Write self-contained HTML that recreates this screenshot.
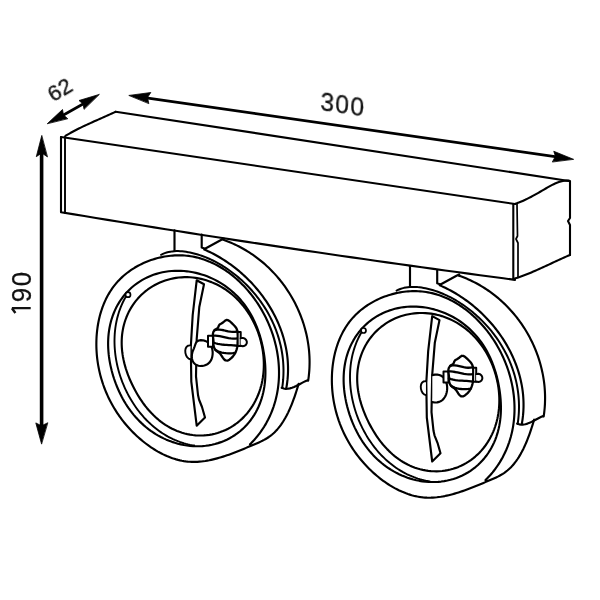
<!DOCTYPE html>
<html><head><meta charset="utf-8"><style>
html,body{margin:0;padding:0;background:#fff;width:600px;height:600px;overflow:hidden}
svg{display:block}
text{font-family:"Liberation Sans",sans-serif;fill:#111}
</style></head><body>
<svg width="600" height="600" viewBox="0 0 600 600">
<rect width="600" height="600" fill="#fff"/>
<g stroke="#000" stroke-linejoin="round" stroke-linecap="round">
<path d="M61.00,137.00 L61.00,212.23 L72.64,214.16 L84.28,216.08 L95.92,217.99 L107.56,219.88 L119.21,221.77 L130.85,223.65 L142.49,225.52 L154.13,227.38 L165.77,229.22 L177.41,231.06 L189.05,232.89 L200.69,234.70 L212.33,236.51 L223.97,238.30 L235.62,240.09 L247.26,241.87 L258.90,243.63 L270.54,245.39 L282.18,247.13 L293.82,248.86 L305.46,250.59 L317.10,252.30 L328.74,254.01 L340.38,255.70 L352.03,257.38 L363.67,259.05 L375.31,260.72 L386.95,262.37 L398.59,264.01 L410.23,265.64 L421.87,267.26 L433.51,268.87 L445.15,270.47 L456.79,272.07 L468.44,273.65 L480.08,275.22 L491.72,276.78 L503.36,278.32 L515.00,279.86" stroke-width="2.10" fill="none"/>
<path d="M65.00,136.50 L65.00,213.00" stroke-width="1.90" fill="none"/>
<path d="M61.00,137.00 L515.00,204.00" stroke-width="2.10" fill="none"/>
<path d="M513.30,204.00 L513.30,279.30" stroke-width="2.10" fill="none"/>
<path d="M517.00,204.00 L517.50,236.00 L516.00,239.00 L518.00,243.00 L518.00,277.00" stroke-width="1.70" fill="none"/>
<path d="M65.70,135.70 L67.54,134.62 L69.40,133.56 L71.26,132.52 L73.14,131.50 L75.03,130.50 L76.92,129.52 L78.83,128.56 L80.74,127.62 L82.66,126.68 L84.59,125.77 L86.52,124.86 L88.46,123.97 L90.40,123.08 L92.34,122.20 L94.29,121.33 L96.24,120.46 L98.20,119.60 L100.15,118.73 L102.10,117.87 L104.05,117.01 L106.01,116.14 L107.95,115.28 L109.90,114.40 L111.84,113.53 L113.78,112.64 L115.72,111.74" stroke-width="2.10" fill="none"/>
<path d="M115.70,111.70 L569.00,181.00" stroke-width="2.10" fill="none"/>
<path d="M568.91,180.64 L566.83,180.61 L564.80,180.75 L562.80,181.05 L560.83,181.50 L558.88,182.07 L556.97,182.76 L555.07,183.55 L553.19,184.43 L551.32,185.37 L549.47,186.38 L547.62,187.42 L545.77,188.49 L543.93,189.57 L542.08,190.65 L540.22,191.73 L538.37,192.80 L536.51,193.87 L534.64,194.92 L532.77,195.94 L530.88,196.95 L529.00,197.93 L527.10,198.88 L525.19,199.80 L523.27,200.67 L521.34,201.50 L519.40,202.29 L517.44,203.02 L515.48,203.70" stroke-width="2.10" fill="none"/>
<path d="M570.00,181.00 L570.00,218.00 L568.00,221.00 L570.00,225.00 L570.00,255.00" stroke-width="2.10" fill="none"/>
<path d="M513.50,279.00 L515.53,278.37 L517.54,277.71 L519.55,277.02 L521.54,276.31 L523.53,275.57 L525.51,274.81 L527.47,274.03 L529.43,273.23 L531.39,272.42 L533.33,271.59 L535.28,270.74 L537.21,269.89 L539.14,269.02 L541.07,268.14 L543.00,267.26 L544.92,266.37 L546.84,265.48 L548.76,264.58 L550.68,263.68 L552.60,262.78 L554.52,261.89 L556.45,261.00 L558.37,260.11 L560.30,259.23 L562.23,258.36 L564.16,257.50 L566.10,256.65 L568.05,255.82 L570.00,255.00" stroke-width="2.10" fill="none"/>
<path d="M148.00,98.10 L555.00,156.60" stroke-width="2.60" fill="none"/>
<path d="M129.20,95.40 L150.80,92.50 L147.50,97.50 L148.75,103.30Z" stroke-width="0.80" fill="#000"/>
<path d="M573.30,159.20 L553.75,151.25 L555.40,156.25 L552.50,161.70Z" stroke-width="0.80" fill="#000"/>
<path d="M63.50,115.00 L83.00,104.00" stroke-width="2.60" fill="none"/>
<path d="M47.50,123.50 L62.50,109.50 L63.50,115.00 L67.50,118.50Z" stroke-width="0.80" fill="#000"/>
<path d="M99.00,94.50 L79.00,100.50 L83.00,104.00 L84.00,109.00Z" stroke-width="0.80" fill="#000"/>
<path d="M41.60,152.00 L41.60,427.00" stroke-width="3.60" fill="none"/>
<path d="M41.70,135.80 L36.30,156.70 L41.70,153.00 L47.20,156.70Z" stroke-width="0.80" fill="#000"/>
<path d="M41.50,443.75 L35.80,422.90 L41.50,425.80 L47.50,422.90Z" stroke-width="0.80" fill="#000"/>
<g>
<path d="M174.50,230.40 L174.50,251.00" stroke-width="2.15" fill="none"/>
<path d="M201.70,234.60 L201.70,247.50 L205.00,248.70" stroke-width="2.15" fill="none"/>
<path d="M205.00,248.70 L221.00,240.00 L223.70,238.60" stroke-width="2.15" fill="none"/>
<path d="M223.30,239.83 L225.27,240.53 L227.22,241.26 L229.15,242.02 L231.07,242.81 L232.97,243.63 L234.86,244.49 L236.72,245.38 L238.57,246.30 L240.40,247.24 L242.21,248.22 L244.00,249.23 L245.77,250.26 L247.53,251.33 L249.26,252.42 L250.98,253.54 L252.68,254.69 L254.35,255.86 L256.01,257.06 L257.64,258.29 L259.26,259.54 L260.85,260.81 L262.42,262.12 L263.97,263.44 L265.50,264.79 L267.01,266.17 L268.50,267.56 L269.96,268.98 L271.40,270.43 L272.82,271.89 L274.21,273.38 L275.58,274.88 L276.93,276.41 L278.26,277.96 L279.56,279.53 L280.83,281.12 L282.09,282.72 L283.31,284.35 L284.51,285.99 L285.69,287.65 L286.84,289.33 L287.97,291.03 L289.07,292.74 L290.15,294.47 L291.19,296.22 L292.22,297.98 L293.21,299.76 L294.18,301.55 L295.12,303.35 L296.04,305.17 L296.92,307.01 L297.78,308.85 L298.61,310.71 L299.41,312.58 L300.19,314.47 L300.93,316.36 L301.65,318.26 L302.33,320.18 L302.99,322.11 L303.62,324.04 L304.21,325.99 L304.78,327.94 L305.32,329.91 L305.82,331.88 L306.30,333.86 L306.74,335.85 L307.15,337.84 L307.54,339.84 L307.88,341.85 L308.20,343.86 L308.49,345.88 L308.74,347.90 L308.96,349.93 L309.15,351.96 L309.30,354.00 L309.42,356.04 L309.51,358.08 L309.56,360.12 L309.58,362.17 L309.56,364.22 L309.51,366.27 L309.43,368.32 L309.31,370.37 L309.15,372.42 L308.96,374.47 L308.73,376.53 L308.47,378.58 L308.17,380.62" stroke-width="2.15" fill="none"/>
<path d="M307.69,380.32 L305.84,381.02 L303.95,381.89 L302.03,382.89 L300.07,383.95 L298.09,385.02 L296.08,386.05 L294.06,387.00 L292.01,387.80 L289.95,388.40 L287.89,388.76 L285.81,388.82 L283.74,388.52 L281.66,387.81" stroke-width="2.15" fill="none"/>
<path d="M204.30,249.51 L206.13,250.32 L207.95,251.15 L209.75,252.01 L211.55,252.90 L213.33,253.81 L215.11,254.76 L216.87,255.73 L218.62,256.73 L220.36,257.75 L222.09,258.81 L223.80,259.88 L225.50,260.99 L227.19,262.12 L228.86,263.27 L230.52,264.45 L232.16,265.65 L233.78,266.88 L235.40,268.13 L236.99,269.40 L238.57,270.70 L240.13,272.02 L241.67,273.36 L243.20,274.72 L244.70,276.11 L246.19,277.52 L247.66,278.94 L249.11,280.39 L250.54,281.86 L251.95,283.35 L253.34,284.86 L254.71,286.38 L256.05,287.93 L257.38,289.49 L258.68,291.08 L259.96,292.68 L261.22,294.30 L262.45,295.93 L263.66,297.59 L264.85,299.26 L266.01,300.94 L267.14,302.64 L268.25,304.36 L269.34,306.09 L270.40,307.84 L271.43,309.60 L272.43,311.38 L273.41,313.17 L274.36,314.97 L275.28,316.79 L276.17,318.62 L277.04,320.46 L277.87,322.31 L278.67,324.18 L279.45,326.06 L280.19,327.95 L280.91,329.85 L281.59,331.76 L282.24,333.68 L282.85,335.61 L283.44,337.55 L283.99,339.50 L284.51,341.45 L284.99,343.42 L285.44,345.39 L285.86,347.38 L286.24,349.37 L286.59,351.36 L286.90,353.37 L287.17,355.38 L287.41,357.40 L287.61,359.42 L287.77,361.45 L287.89,363.48 L287.98,365.52 L288.03,367.56 L288.04,369.61 L288.01,371.66 L287.94,373.71 L287.83,375.77 L287.68,377.83 L287.49,379.89 L287.25,381.95 L286.98,384.02 L286.66,386.09 L286.30,388.15" stroke-width="2.15" fill="none"/>
<path d="M298.64,383.90 L298.08,385.76 L297.51,387.65 L296.91,389.55 L296.30,391.47 L295.68,393.40 L295.03,395.33 L294.36,397.28 L293.66,399.22 L292.95,401.16 L292.20,403.10 L291.43,405.03 L290.64,406.95 L289.81,408.86 L288.96,410.74 L288.08,412.61 L287.16,414.45 L286.21,416.27 L285.23,418.05 L284.21,419.80 L283.16,421.52 L282.07,423.19 L280.94,424.82 L279.77,426.40 L278.56,427.93 L277.31,429.41 L276.02,430.84 L274.68,432.20 L273.30,433.50 L271.87,434.73 L270.39,435.90 L268.87,436.99 L267.30,438.02 L265.69,438.99 L264.04,439.92 L262.36,440.80 L260.64,441.64 L258.90,442.45 L257.13,443.24 L255.33,444.02 L253.52,444.78 L251.69,445.55 L249.85,446.32 L247.99,447.09 L246.13,447.87 L244.25,448.65 L242.36,449.42 L240.46,450.20 L238.56,450.96 L236.64,451.72 L234.72,452.47 L232.79,453.21 L230.85,453.93 L228.91,454.64 L226.96,455.32 L225.00,455.99 L223.04,456.63 L221.08,457.24 L219.11,457.83 L217.14,458.39 L215.17,458.91 L213.20,459.40 L211.22,459.85 L209.25,460.27 L207.27,460.64 L205.30,460.97 L203.32,461.25 L201.35,461.49 L199.38,461.67 L197.42,461.81 L195.46,461.88 L193.50,461.90 L191.54,461.87 L189.60,461.77 L187.65,461.60 L185.72,461.38 L183.79,461.09 L181.87,460.75 L179.96,460.35 L178.06,459.89 L176.16,459.38 L174.28,458.81 L172.41,458.20 L170.55,457.53 L168.70,456.81 L166.86,456.05 L165.04,455.24 L163.23,454.39 L161.44,453.49 L159.66,452.56 L157.90,451.58 L156.16,450.56 L154.43,449.51 L152.72,448.42 L151.03,447.30 L149.36,446.15 L147.70,444.96 L146.07,443.75 L144.46,442.50 L142.87,441.23 L141.31,439.94 L139.76,438.62 L138.24,437.28 L136.75,435.92 L135.27,434.53 L133.82,433.13 L132.40,431.70 L131.00,430.25 L129.62,428.78 L128.27,427.29 L126.95,425.78 L125.65,424.26 L124.37,422.71 L123.12,421.14 L121.90,419.56 L120.70,417.96 L119.53,416.34 L118.39,414.70 L117.27,413.04 L116.18,411.37 L115.11,409.68 L114.08,407.98 L113.07,406.26 L112.08,404.52 L111.13,402.77 L110.20,401.00 L109.30,399.22 L108.43,397.43 L107.59,395.62 L106.78,393.80 L106.00,391.96 L105.24,390.12 L104.51,388.26 L103.82,386.38 L103.15,384.50 L102.52,382.60 L101.91,380.70 L101.33,378.78 L100.79,376.85 L100.27,374.91 L99.79,372.96 L99.34,371.00 L98.91,369.04 L98.52,367.06 L98.16,365.07 L97.84,363.08 L97.54,361.08 L97.28,359.07 L97.05,357.06 L96.85,355.03 L96.69,353.01 L96.56,350.97 L96.46,348.93 L96.39,346.89 L96.36,344.84 L96.37,342.79 L96.40,340.74 L96.48,338.70 L96.58,336.65 L96.73,334.61 L96.91,332.57 L97.12,330.53 L97.37,328.51 L97.66,326.49 L97.99,324.47 L98.35,322.47 L98.75,320.48 L99.19,318.50 L99.66,316.53 L100.18,314.58 L100.73,312.64 L101.33,310.72 L101.96,308.81 L102.63,306.92 L103.34,305.06 L104.09,303.21 L104.89,301.39 L105.72,299.58 L106.60,297.81 L107.51,296.05 L108.47,294.33 L109.47,292.63 L110.52,290.96 L111.60,289.32 L112.73,287.70 L113.90,286.13 L115.12,284.58 L116.38,283.07 L117.68,281.59 L119.03,280.15 L120.42,278.74 L121.85,277.38 L123.32,276.04 L124.83,274.75 L126.37,273.49 L127.95,272.27 L129.56,271.09 L131.20,269.95 L132.88,268.85 L134.58,267.79 L136.31,266.77 L138.07,265.79 L139.86,264.85 L141.67,263.95 L143.50,263.09 L145.35,262.28 L147.22,261.51 L149.11,260.78 L151.02,260.10 L152.94,259.46 L154.87,258.86 L156.82,258.31 L158.78,257.81 L160.75,257.35 L162.73,256.93 L164.72,256.56 L166.71,256.24 L168.71,255.97 L170.71,255.75 L172.71,255.57 L174.71,255.44 L176.72,255.36 L178.71,255.33 L180.71,255.35 L182.70,255.42 L184.68,255.54 L186.66,255.71 L188.62,255.94 L190.58,256.21 L192.52,256.54 L194.45,256.92 L196.38,257.34 L198.28,257.82 L200.18,258.34 L202.06,258.91 L203.93,259.52 L205.79,260.18 L207.63,260.89 L209.45,261.63 L211.27,262.42 L213.06,263.26 L214.84,264.13 L216.60,265.04 L218.35,265.99 L220.08,266.98 L221.79,268.01 L223.48,269.08 L225.16,270.18 L226.81,271.31 L228.45,272.48 L230.07,273.68 L231.67,274.92 L233.24,276.19 L234.80,277.48 L236.33,278.81 L237.84,280.17 L239.34,281.55 L240.80,282.97 L242.25,284.40 L243.67,285.87 L245.07,287.36 L246.44,288.87 L247.79,290.41 L249.12,291.97 L250.41,293.55 L251.69,295.15 L252.93,296.77 L254.15,298.41 L255.35,300.07 L256.52,301.75 L257.66,303.44 L258.77,305.15 L259.85,306.88 L260.91,308.63 L261.94,310.39 L262.94,312.16 L263.92,313.95 L264.86,315.76 L265.78,317.57 L266.67,319.41 L267.52,321.25 L268.35,323.10 L269.15,324.97 L269.92,326.85 L270.67,328.74 L271.38,330.63 L272.06,332.54 L272.71,334.46 L273.33,336.38 L273.91,338.31 L274.47,340.25 L275.00,342.20 L275.49,344.15 L275.96,346.11 L276.39,348.07 L276.79,350.04 L277.16,352.01 L277.49,353.99 L277.79,355.97 L278.06,357.95 L278.30,359.93 L278.50,361.92 L278.67,363.90 L278.81,365.89 L278.91,367.88 L278.98,369.86 L279.01,371.85 L279.01,373.83 L278.98,375.81 L278.91,377.79 L278.80,379.76 L278.66,381.73 L278.49,383.70 L278.28,385.66 L278.03,387.62 L277.75,389.57 L277.43,391.52 L277.07,393.45 L276.68,395.38 L276.25,397.31 L275.78,399.22 L275.28,401.13 L274.74,403.02 L274.16,404.91 L273.55,406.78 L272.89,408.65 L272.20,410.50 L271.47,412.34 L270.70,414.17 L269.89,415.98 L269.04,417.78 L268.16,419.57 L267.23,421.34 L266.27,423.10 L265.26,424.84 L264.22,426.57 L263.13,428.27 L262.00,429.97 L260.84,431.64 L259.63,433.29 L258.38,434.93 L257.09,436.55 L255.76,438.14 L254.39,439.72 L252.97,441.27 L251.52,442.81 L250.02,444.32" stroke-width="2.15" fill="none"/>
<path d="M161.09,254.79 L162.92,253.91 L164.76,253.17 L166.64,252.55 L168.53,252.05 L170.44,251.66 L172.37,251.38 L174.31,251.19 L176.26,251.10 L178.22,251.10 L180.19,251.17 L182.16,251.32 L184.13,251.54 L186.10,251.81 L188.07,252.14 L190.03,252.52 L191.98,252.95 L193.93,253.42 L195.87,253.94 L197.81,254.51 L199.73,255.12 L201.65,255.77 L203.55,256.46 L205.45,257.19 L207.33,257.96 L209.20,258.77 L211.06,259.62 L212.91,260.51 L214.74,261.43 L216.56,262.39 L218.36,263.38 L220.15,264.41 L221.93,265.46 L223.68,266.55 L225.42,267.67 L227.15,268.82 L228.85,270.00 L230.53,271.20 L232.20,272.44 L233.85,273.69 L235.47,274.98 L237.08,276.28 L238.66,277.61 L240.22,278.96 L241.76,280.34 L243.27,281.73 L244.76,283.15 L246.23,284.58 L247.67,286.04 L249.09,287.52 L250.49,289.01 L251.86,290.53 L253.21,292.06 L254.53,293.61 L255.82,295.19 L257.09,296.78 L258.33,298.38 L259.55,300.01 L260.74,301.65 L261.91,303.31 L263.04,304.98 L264.15,306.67 L265.23,308.38 L266.29,310.10 L267.31,311.84 L268.31,313.59 L269.27,315.36 L270.21,317.14 L271.12,318.94 L272.00,320.74 L272.85,322.57 L273.67,324.40 L274.46,326.25 L275.21,328.11 L275.94,329.98 L276.63,331.86 L277.30,333.76 L277.93,335.66 L278.53,337.58 L279.09,339.50 L279.63,341.44 L280.13,343.39 L280.59,345.34 L281.03,347.30 L281.43,349.28 L281.79,351.26 L282.12,353.25 L282.42,355.25 L282.68,357.25 L282.90,359.26 L283.09,361.28 L283.24,363.30 L283.36,365.34 L283.44,367.37 L283.49,369.41 L283.49,371.46 L283.46,373.51 L283.40,375.57 L283.29,377.63 L283.15,379.70 L282.96,381.76 L282.74,383.84 L282.48,385.91 L282.18,387.99" stroke-width="2.00" fill="none"/>
<path d="M109.02,357.00 L108.68,354.16 L108.42,351.30 L108.23,348.41 L108.13,345.49 L108.12,342.56 L108.20,339.61 L108.37,336.65 L108.65,333.67 L109.04,330.69 L109.53,327.71 L110.14,324.73 L110.87,321.77 L111.72,318.82 L112.69,315.89 L113.79,313.00 L115.02,310.14 L116.37,307.34 L117.86,304.59 L119.47,301.90 L121.21,299.28 L123.08,296.74 L125.07,294.29 L127.17,291.94 L129.39,289.68 L131.71,287.54 L134.14,285.50 L136.67,283.59 L139.28,281.80 L141.97,280.14 L144.74,278.61 L147.58,277.22 L150.48,275.96 L153.42,274.84 L156.41,273.86 L159.43,273.01 L162.48,272.30 L165.55,271.73 L168.63,271.29 L171.72,270.98 L174.80,270.81 L177.88,270.75 L180.94,270.82 L183.99,271.01 L187.01,271.31 L190.00,271.73 L192.96,272.25 L195.88,272.88 L198.76,273.61 L201.60,274.43 L204.40,275.35 L207.14,276.36 L209.83,277.46 L212.47,278.64 L215.05,279.90 L217.57,281.24 L220.04,282.65 L222.44,284.14 L224.78,285.70 L227.05,287.32 L229.26,289.01 L231.39,290.76 L233.46,292.57 L235.46,294.43 L237.39,296.35 L239.24,298.32 L241.02,300.33 L242.73,302.39 L244.37,304.50 L245.93,306.64 L247.43,308.81 L248.85,311.02 L250.20,313.26 L251.48,315.53 L252.69,317.83 L253.84,320.14 L254.92,322.48 L255.95,324.84 L256.91,327.21 L257.81,329.60 L258.66,332.01 L259.46,334.43 L260.20,336.87 L260.90,339.32 L261.54,341.79 L262.14,344.28 L262.69,346.78 L263.19,349.31 L263.65,351.85 L264.06,354.41 L264.42,357.00 L264.73,359.61 L264.99,362.24 L265.19,364.90 L265.33,367.59 L265.41,370.30 L265.42,373.03 L265.36,375.79 L265.22,378.57 L265.00,381.37 L264.69,384.19 L264.30,387.02 L263.80,389.86 L263.20,392.70 L262.50,395.55 L261.68,398.38 L260.75,401.21 L259.70,404.01 L258.53,406.79 L257.23,409.53 L255.82,412.23 L254.27,414.87 L252.60,417.45 L250.81,419.97 L248.89,422.41 L246.86,424.76 L244.71,427.02 L242.44,429.18 L240.07,431.23 L237.60,433.17 L235.03,434.99 L232.37,436.69 L229.63,438.25 L226.81,439.68 L223.93,440.97 L220.98,442.13 L217.99,443.14 L214.95,444.01 L211.87,444.73 L208.77,445.32 L205.65,445.76 L202.52,446.06 L199.38,446.22 L196.24,446.24 L193.11,446.13 L190.00,445.89 L186.91,445.52 L183.85,445.02 L180.81,444.40 L177.82,443.67 L174.87,442.82 L171.96,441.86 L169.11,440.80 L166.30,439.64 L163.56,438.38 L160.87,437.03 L158.25,435.59 L155.69,434.07 L153.19,432.47 L150.77,430.79 L148.41,429.04 L146.12,427.22 L143.91,425.33 L141.76,423.39 L139.69,421.39 L137.69,419.34 L135.77,417.23 L133.91,415.08 L132.13,412.88 L130.42,410.65 L128.78,408.37 L127.20,406.06 L125.70,403.72 L124.26,401.34 L122.88,398.94 L121.57,396.51 L120.32,394.05 L119.13,391.56 L118.01,389.05 L116.94,386.52 L115.92,383.96 L114.97,381.38 L114.07,378.77 L113.23,376.14 L112.45,373.48 L111.72,370.80 L111.06,368.09 L110.45,365.36 L109.91,362.60 L109.43,359.81Z" stroke-width="2.15" fill="none"/>
<path d="M122.99,357.00 L122.60,354.65 L122.27,352.26 L122.01,349.85 L121.82,347.42 L121.71,344.96 L121.68,342.48 L121.72,339.98 L121.86,337.46 L122.08,334.93 L122.40,332.40 L122.82,329.86 L123.33,327.32 L123.94,324.78 L124.66,322.26 L125.48,319.75 L126.40,317.26 L127.44,314.80 L128.58,312.37 L129.82,309.98 L131.18,307.64 L132.63,305.35 L134.19,303.11 L135.86,300.93 L137.62,298.82 L139.48,296.79 L141.43,294.83 L143.47,292.96 L145.60,291.17 L147.81,289.48 L150.09,287.88 L152.45,286.39 L154.88,284.99 L157.37,283.71 L159.91,282.54 L162.51,281.47 L165.15,280.53 L167.83,279.70 L170.55,278.98 L173.29,278.39 L176.05,277.91 L178.83,277.55 L181.62,277.31 L184.42,277.19 L187.21,277.19 L190.00,277.30 L192.78,277.53 L195.53,277.87 L198.27,278.32 L200.98,278.87 L203.66,279.53 L206.30,280.30 L208.91,281.16 L211.47,282.12 L213.99,283.17 L216.45,284.32 L218.87,285.55 L221.23,286.86 L223.53,288.25 L225.78,289.71 L227.96,291.25 L230.08,292.85 L232.14,294.52 L234.14,296.25 L236.06,298.04 L237.93,299.88 L239.72,301.78 L241.45,303.72 L243.12,305.70 L244.72,307.73 L246.25,309.80 L247.71,311.91 L249.12,314.05 L250.45,316.22 L251.72,318.43 L252.93,320.67 L254.08,322.93 L255.16,325.22 L256.18,327.54 L257.14,329.88 L258.03,332.24 L258.87,334.62 L259.64,337.03 L260.35,339.46 L260.99,341.91 L261.57,344.38 L262.09,346.87 L262.55,349.37 L262.94,351.90 L263.26,354.44 L263.51,357.00 L263.69,359.57 L263.80,362.16 L263.83,364.76 L263.79,367.37 L263.67,369.99 L263.47,372.62 L263.18,375.25 L262.81,377.88 L262.35,380.51 L261.81,383.14 L261.17,385.75 L260.43,388.36 L259.60,390.95 L258.68,393.52 L257.65,396.06 L256.53,398.57 L255.30,401.05 L253.98,403.48 L252.55,405.87 L251.02,408.20 L249.39,410.48 L247.67,412.69 L245.84,414.83 L243.92,416.89 L241.91,418.87 L239.81,420.76 L237.63,422.56 L235.36,424.25 L233.02,425.85 L230.61,427.33 L228.12,428.70 L225.58,429.95 L222.98,431.08 L220.34,432.09 L217.65,432.97 L214.93,433.72 L212.18,434.34 L209.41,434.83 L206.62,435.19 L203.83,435.42 L201.03,435.51 L198.25,435.48 L195.48,435.32 L192.72,435.03 L190.00,434.62 L187.31,434.10 L184.65,433.46 L182.04,432.71 L179.48,431.85 L176.97,430.89 L174.52,429.84 L172.12,428.70 L169.79,427.47 L167.53,426.17 L165.33,424.79 L163.19,423.35 L161.13,421.84 L159.13,420.28 L157.21,418.67 L155.35,417.01 L153.56,415.31 L151.84,413.58 L150.18,411.81 L148.58,410.02 L147.04,408.20 L145.56,406.36 L144.13,404.49 L142.76,402.62 L141.44,400.72 L140.17,398.81 L138.94,396.89 L137.76,394.96 L136.61,393.01 L135.51,391.05 L134.44,389.08 L133.41,387.09 L132.42,385.08 L131.46,383.06 L130.54,381.02 L129.65,378.97 L128.80,376.89 L127.98,374.78 L127.20,372.66 L126.46,370.51 L125.76,368.33 L125.11,366.12 L124.50,363.88 L123.94,361.62 L123.44,359.32Z" stroke-width="2.15" fill="none"/>
<path d="M127.18,294.46 L126.13,296.18 L125.13,297.92 L124.18,299.68 L123.28,301.46 L122.42,303.27 L121.60,305.09 L120.84,306.93 L120.12,308.79 L119.44,310.66 L118.81,312.55 L118.22,314.46 L117.68,316.38 L117.18,318.31 L116.72,320.26 L116.31,322.22 L115.94,324.19 L115.62,326.17 L115.33,328.16 L115.09,330.16 L114.89,332.17 L114.73,334.18 L114.62,336.20 L114.54,338.23 L114.50,340.26 L114.51,342.29 L114.55,344.33 L114.63,346.37 L114.76,348.41 L114.92,350.45 L115.12,352.50 L115.36,354.54 L115.64,356.57 L115.95,358.61 L116.30,360.64 L116.69,362.67 L117.12,364.70 L117.58,366.71 L118.08,368.72 L118.61,370.73 L119.18,372.72 L119.79,374.71 L120.43,376.68 L121.10,378.65 L121.81,380.60 L122.55,382.54 L123.33,384.47 L124.14,386.38 L124.98,388.28 L125.86,390.17 L126.77,392.03 L127.71,393.88 L128.68,395.71 L129.69,397.53 L130.72,399.32 L131.79,401.09 L132.88,402.84 L134.01,404.57 L135.17,406.28 L136.36,407.96 L137.57,409.62 L138.82,411.25 L140.09,412.86 L141.39,414.44 L142.72,415.99 L144.08,417.51 L145.47,419.00 L146.88,420.47 L148.32,421.90 L149.79,423.30 L151.28,424.66 L152.80,426.00 L154.34,427.30 L155.91,428.56 L157.51,429.79 L159.13,430.98 L160.77,432.13 L162.44,433.25 L164.13,434.32 L165.85,435.36 L167.58,436.36 L169.35,437.31 L171.13,438.22 L172.94,439.09 L174.76,439.91 L176.61,440.69 L178.48,441.42 L180.38,442.11 L182.29,442.75 L184.22,443.34 L186.18,443.88 L188.15,444.37 L190.14,444.81 L192.15,445.20 L194.18,445.54" stroke-width="1.90" fill="none"/>
<path d="M130.5,294.7 a2.5,2.5 0 1,1 -5,0 a2.5,2.5 0 1,1 5,0" stroke-width="1.70" fill="#fff"/>
<path d="M196.70,280.30 L192.70,315.00 L190.80,347.00 L191.30,381.70 L196.70,425.70 L205.00,417.50 L202.00,407.00 L199.00,399.50 L198.00,395.00 L196.00,376.30 L196.70,339.00 L199.30,307.00 L204.00,284.30Z" stroke-width="2.15" fill="#fff"/>
<path d="M190.48,345.40 L188.21,345.60 L186.62,346.69 L185.65,348.44 L185.27,350.60 L185.42,352.94 L186.06,355.22 L187.14,357.19 L188.61,358.62 L190.43,359.26" stroke-width="1.90" fill="#fff"/>
<path d="M197.22,341.29 L198.81,340.45 L200.77,340.14 L202.91,340.31 L205.09,340.89 L207.11,341.81 L208.83,343.01 L210.19,344.45 L211.23,346.12 L211.97,347.99 L212.44,350.03 L212.66,352.21 L212.62,354.44 L212.30,356.65 L211.70,358.76 L210.79,360.70 L209.57,362.38 L208.06,363.75 L206.31,364.80 L204.41,365.53 L202.42,365.93 L200.42,366.00 L198.47,365.71 L196.65,365.08 L195.02,364.10 L193.67,362.75 L192.65,361.03 L192.04,358.96 L191.82,356.67 L191.96,354.33 L192.43,352.15 L193.15,350.22 L193.95,348.37 L194.66,346.44 L195.31,344.48 L196.09,342.69 L197.22,341.29Z" stroke-width="2.15" fill="#fff"/>
<path d="M208.00,335.80 L213.00,335.80 L213.00,346.70 L208.00,346.70Z" stroke-width="2.00" fill="#fff"/>
<path d="M226.41,319.97 L228.06,320.18 L229.80,321.27 L231.54,322.84 L233.19,324.51 L234.65,325.97 L235.85,327.40 L236.75,329.04 L237.37,330.89 L237.75,332.91 L237.94,335.05 L237.99,337.24 L237.94,339.45 L237.83,341.60 L237.67,343.70 L237.43,345.72 L237.08,347.69 L236.59,349.59 L235.95,351.43 L235.12,353.21 L234.07,354.92 L232.79,356.58 L231.24,358.17 L229.41,359.68 L227.43,360.66 L225.56,360.46 L224.01,359.29 L222.76,357.66 L221.63,355.82 L220.41,354.05 L218.93,352.61 L217.23,351.44 L215.64,350.15 L214.44,348.44 L213.74,346.45 L213.48,344.40 L213.46,342.33 L213.42,340.24 L213.18,338.15 L212.91,336.06 L212.88,333.99 L213.37,331.98 L214.53,330.24 L216.33,329.02 L217.98,327.84 L218.64,326.06 L219.55,324.49 L221.44,323.50 L223.32,322.26 L224.89,320.84 L226.41,319.97Z" stroke-width="2.30" fill="#fff"/>
<path d="M214.70,330.00 L216.99,329.60 L219.25,329.57 L221.49,329.82 L223.72,330.25 L225.95,330.77 L228.19,331.29 L230.43,331.72 L232.69,331.96 L234.98,331.91 L237.30,331.50" stroke-width="2.30" fill="none"/>
<path d="M213.03,335.63 L215.25,335.65 L217.47,335.86 L219.68,336.21 L221.90,336.65 L224.11,337.14 L226.34,337.62 L228.58,338.06 L230.83,338.40 L233.10,338.60 L235.40,338.61 L237.72,338.38" stroke-width="2.30" fill="none"/>
<path d="M213.40,342.50 L215.53,343.24 L217.69,343.81 L219.88,344.23 L222.09,344.54 L224.31,344.76 L226.55,344.92 L228.79,345.04 L231.03,345.17 L233.27,345.32 L235.49,345.52 L237.70,345.80" stroke-width="2.30" fill="none"/>
<path d="M215.50,350.00 L217.46,351.10 L219.52,351.94 L221.65,352.55 L223.84,352.97 L226.07,353.21 L228.32,353.31 L230.57,353.29 L232.81,353.17 L235.00,353.00" stroke-width="2.30" fill="none"/>
<path d="M237.70,332.00 L240.70,332.00 L240.70,346.00 L237.70,346.00Z" stroke-width="2.00" fill="#fff"/>
<path d="M240.63,338.31 L242.77,337.89 L244.61,338.45 L246.00,339.71 L246.78,341.35 L246.81,343.09 L246.07,344.63 L244.69,345.74 L242.83,346.16 L240.62,345.66" stroke-width="2.00" fill="#fff"/>
</g>
<g transform="translate(235.5,35.8)">
<path d="M174.50,230.40 L174.50,251.00" stroke-width="2.15" fill="none"/>
<path d="M201.70,234.60 L201.70,247.50 L205.00,248.70" stroke-width="2.15" fill="none"/>
<path d="M205.00,248.70 L221.00,240.00 L223.70,238.60" stroke-width="2.15" fill="none"/>
<path d="M223.30,239.83 L225.27,240.53 L227.22,241.26 L229.15,242.02 L231.07,242.81 L232.97,243.63 L234.86,244.49 L236.72,245.38 L238.57,246.30 L240.40,247.24 L242.21,248.22 L244.00,249.23 L245.77,250.26 L247.53,251.33 L249.26,252.42 L250.98,253.54 L252.68,254.69 L254.35,255.86 L256.01,257.06 L257.64,258.29 L259.26,259.54 L260.85,260.81 L262.42,262.12 L263.97,263.44 L265.50,264.79 L267.01,266.17 L268.50,267.56 L269.96,268.98 L271.40,270.43 L272.82,271.89 L274.21,273.38 L275.58,274.88 L276.93,276.41 L278.26,277.96 L279.56,279.53 L280.83,281.12 L282.09,282.72 L283.31,284.35 L284.51,285.99 L285.69,287.65 L286.84,289.33 L287.97,291.03 L289.07,292.74 L290.15,294.47 L291.19,296.22 L292.22,297.98 L293.21,299.76 L294.18,301.55 L295.12,303.35 L296.04,305.17 L296.92,307.01 L297.78,308.85 L298.61,310.71 L299.41,312.58 L300.19,314.47 L300.93,316.36 L301.65,318.26 L302.33,320.18 L302.99,322.11 L303.62,324.04 L304.21,325.99 L304.78,327.94 L305.32,329.91 L305.82,331.88 L306.30,333.86 L306.74,335.85 L307.15,337.84 L307.54,339.84 L307.88,341.85 L308.20,343.86 L308.49,345.88 L308.74,347.90 L308.96,349.93 L309.15,351.96 L309.30,354.00 L309.42,356.04 L309.51,358.08 L309.56,360.12 L309.58,362.17 L309.56,364.22 L309.51,366.27 L309.43,368.32 L309.31,370.37 L309.15,372.42 L308.96,374.47 L308.73,376.53 L308.47,378.58 L308.17,380.62" stroke-width="2.15" fill="none"/>
<path d="M307.69,380.32 L305.84,381.02 L303.95,381.89 L302.03,382.89 L300.07,383.95 L298.09,385.02 L296.08,386.05 L294.06,387.00 L292.01,387.80 L289.95,388.40 L287.89,388.76 L285.81,388.82 L283.74,388.52 L281.66,387.81" stroke-width="2.15" fill="none"/>
<path d="M204.30,249.51 L206.13,250.32 L207.95,251.15 L209.75,252.01 L211.55,252.90 L213.33,253.81 L215.11,254.76 L216.87,255.73 L218.62,256.73 L220.36,257.75 L222.09,258.81 L223.80,259.88 L225.50,260.99 L227.19,262.12 L228.86,263.27 L230.52,264.45 L232.16,265.65 L233.78,266.88 L235.40,268.13 L236.99,269.40 L238.57,270.70 L240.13,272.02 L241.67,273.36 L243.20,274.72 L244.70,276.11 L246.19,277.52 L247.66,278.94 L249.11,280.39 L250.54,281.86 L251.95,283.35 L253.34,284.86 L254.71,286.38 L256.05,287.93 L257.38,289.49 L258.68,291.08 L259.96,292.68 L261.22,294.30 L262.45,295.93 L263.66,297.59 L264.85,299.26 L266.01,300.94 L267.14,302.64 L268.25,304.36 L269.34,306.09 L270.40,307.84 L271.43,309.60 L272.43,311.38 L273.41,313.17 L274.36,314.97 L275.28,316.79 L276.17,318.62 L277.04,320.46 L277.87,322.31 L278.67,324.18 L279.45,326.06 L280.19,327.95 L280.91,329.85 L281.59,331.76 L282.24,333.68 L282.85,335.61 L283.44,337.55 L283.99,339.50 L284.51,341.45 L284.99,343.42 L285.44,345.39 L285.86,347.38 L286.24,349.37 L286.59,351.36 L286.90,353.37 L287.17,355.38 L287.41,357.40 L287.61,359.42 L287.77,361.45 L287.89,363.48 L287.98,365.52 L288.03,367.56 L288.04,369.61 L288.01,371.66 L287.94,373.71 L287.83,375.77 L287.68,377.83 L287.49,379.89 L287.25,381.95 L286.98,384.02 L286.66,386.09 L286.30,388.15" stroke-width="2.15" fill="none"/>
<path d="M298.64,383.90 L298.08,385.76 L297.51,387.65 L296.91,389.55 L296.30,391.47 L295.68,393.40 L295.03,395.33 L294.36,397.28 L293.66,399.22 L292.95,401.16 L292.20,403.10 L291.43,405.03 L290.64,406.95 L289.81,408.86 L288.96,410.74 L288.08,412.61 L287.16,414.45 L286.21,416.27 L285.23,418.05 L284.21,419.80 L283.16,421.52 L282.07,423.19 L280.94,424.82 L279.77,426.40 L278.56,427.93 L277.31,429.41 L276.02,430.84 L274.68,432.20 L273.30,433.50 L271.87,434.73 L270.39,435.90 L268.87,436.99 L267.30,438.02 L265.69,438.99 L264.04,439.92 L262.36,440.80 L260.64,441.64 L258.90,442.45 L257.13,443.24 L255.33,444.02 L253.52,444.78 L251.69,445.55 L249.85,446.32 L247.99,447.09 L246.13,447.87 L244.25,448.65 L242.36,449.42 L240.46,450.20 L238.56,450.96 L236.64,451.72 L234.72,452.47 L232.79,453.21 L230.85,453.93 L228.91,454.64 L226.96,455.32 L225.00,455.99 L223.04,456.63 L221.08,457.24 L219.11,457.83 L217.14,458.39 L215.17,458.91 L213.20,459.40 L211.22,459.85 L209.25,460.27 L207.27,460.64 L205.30,460.97 L203.32,461.25 L201.35,461.49 L199.38,461.67 L197.42,461.81 L195.46,461.88 L193.50,461.90 L191.54,461.87 L189.60,461.77 L187.65,461.60 L185.72,461.38 L183.79,461.09 L181.87,460.75 L179.96,460.35 L178.06,459.89 L176.16,459.38 L174.28,458.81 L172.41,458.20 L170.55,457.53 L168.70,456.81 L166.86,456.05 L165.04,455.24 L163.23,454.39 L161.44,453.49 L159.66,452.56 L157.90,451.58 L156.16,450.56 L154.43,449.51 L152.72,448.42 L151.03,447.30 L149.36,446.15 L147.70,444.96 L146.07,443.75 L144.46,442.50 L142.87,441.23 L141.31,439.94 L139.76,438.62 L138.24,437.28 L136.75,435.92 L135.27,434.53 L133.82,433.13 L132.40,431.70 L131.00,430.25 L129.62,428.78 L128.27,427.29 L126.95,425.78 L125.65,424.26 L124.37,422.71 L123.12,421.14 L121.90,419.56 L120.70,417.96 L119.53,416.34 L118.39,414.70 L117.27,413.04 L116.18,411.37 L115.11,409.68 L114.08,407.98 L113.07,406.26 L112.08,404.52 L111.13,402.77 L110.20,401.00 L109.30,399.22 L108.43,397.43 L107.59,395.62 L106.78,393.80 L106.00,391.96 L105.24,390.12 L104.51,388.26 L103.82,386.38 L103.15,384.50 L102.52,382.60 L101.91,380.70 L101.33,378.78 L100.79,376.85 L100.27,374.91 L99.79,372.96 L99.34,371.00 L98.91,369.04 L98.52,367.06 L98.16,365.07 L97.84,363.08 L97.54,361.08 L97.28,359.07 L97.05,357.06 L96.85,355.03 L96.69,353.01 L96.56,350.97 L96.46,348.93 L96.39,346.89 L96.36,344.84 L96.37,342.79 L96.40,340.74 L96.48,338.70 L96.58,336.65 L96.73,334.61 L96.91,332.57 L97.12,330.53 L97.37,328.51 L97.66,326.49 L97.99,324.47 L98.35,322.47 L98.75,320.48 L99.19,318.50 L99.66,316.53 L100.18,314.58 L100.73,312.64 L101.33,310.72 L101.96,308.81 L102.63,306.92 L103.34,305.06 L104.09,303.21 L104.89,301.39 L105.72,299.58 L106.60,297.81 L107.51,296.05 L108.47,294.33 L109.47,292.63 L110.52,290.96 L111.60,289.32 L112.73,287.70 L113.90,286.13 L115.12,284.58 L116.38,283.07 L117.68,281.59 L119.03,280.15 L120.42,278.74 L121.85,277.38 L123.32,276.04 L124.83,274.75 L126.37,273.49 L127.95,272.27 L129.56,271.09 L131.20,269.95 L132.88,268.85 L134.58,267.79 L136.31,266.77 L138.07,265.79 L139.86,264.85 L141.67,263.95 L143.50,263.09 L145.35,262.28 L147.22,261.51 L149.11,260.78 L151.02,260.10 L152.94,259.46 L154.87,258.86 L156.82,258.31 L158.78,257.81 L160.75,257.35 L162.73,256.93 L164.72,256.56 L166.71,256.24 L168.71,255.97 L170.71,255.75 L172.71,255.57 L174.71,255.44 L176.72,255.36 L178.71,255.33 L180.71,255.35 L182.70,255.42 L184.68,255.54 L186.66,255.71 L188.62,255.94 L190.58,256.21 L192.52,256.54 L194.45,256.92 L196.38,257.34 L198.28,257.82 L200.18,258.34 L202.06,258.91 L203.93,259.52 L205.79,260.18 L207.63,260.89 L209.45,261.63 L211.27,262.42 L213.06,263.26 L214.84,264.13 L216.60,265.04 L218.35,265.99 L220.08,266.98 L221.79,268.01 L223.48,269.08 L225.16,270.18 L226.81,271.31 L228.45,272.48 L230.07,273.68 L231.67,274.92 L233.24,276.19 L234.80,277.48 L236.33,278.81 L237.84,280.17 L239.34,281.55 L240.80,282.97 L242.25,284.40 L243.67,285.87 L245.07,287.36 L246.44,288.87 L247.79,290.41 L249.12,291.97 L250.41,293.55 L251.69,295.15 L252.93,296.77 L254.15,298.41 L255.35,300.07 L256.52,301.75 L257.66,303.44 L258.77,305.15 L259.85,306.88 L260.91,308.63 L261.94,310.39 L262.94,312.16 L263.92,313.95 L264.86,315.76 L265.78,317.57 L266.67,319.41 L267.52,321.25 L268.35,323.10 L269.15,324.97 L269.92,326.85 L270.67,328.74 L271.38,330.63 L272.06,332.54 L272.71,334.46 L273.33,336.38 L273.91,338.31 L274.47,340.25 L275.00,342.20 L275.49,344.15 L275.96,346.11 L276.39,348.07 L276.79,350.04 L277.16,352.01 L277.49,353.99 L277.79,355.97 L278.06,357.95 L278.30,359.93 L278.50,361.92 L278.67,363.90 L278.81,365.89 L278.91,367.88 L278.98,369.86 L279.01,371.85 L279.01,373.83 L278.98,375.81 L278.91,377.79 L278.80,379.76 L278.66,381.73 L278.49,383.70 L278.28,385.66 L278.03,387.62 L277.75,389.57 L277.43,391.52 L277.07,393.45 L276.68,395.38 L276.25,397.31 L275.78,399.22 L275.28,401.13 L274.74,403.02 L274.16,404.91 L273.55,406.78 L272.89,408.65 L272.20,410.50 L271.47,412.34 L270.70,414.17 L269.89,415.98 L269.04,417.78 L268.16,419.57 L267.23,421.34 L266.27,423.10 L265.26,424.84 L264.22,426.57 L263.13,428.27 L262.00,429.97 L260.84,431.64 L259.63,433.29 L258.38,434.93 L257.09,436.55 L255.76,438.14 L254.39,439.72 L252.97,441.27 L251.52,442.81 L250.02,444.32" stroke-width="2.15" fill="none"/>
<path d="M161.09,254.79 L162.92,253.91 L164.76,253.17 L166.64,252.55 L168.53,252.05 L170.44,251.66 L172.37,251.38 L174.31,251.19 L176.26,251.10 L178.22,251.10 L180.19,251.17 L182.16,251.32 L184.13,251.54 L186.10,251.81 L188.07,252.14 L190.03,252.52 L191.98,252.95 L193.93,253.42 L195.87,253.94 L197.81,254.51 L199.73,255.12 L201.65,255.77 L203.55,256.46 L205.45,257.19 L207.33,257.96 L209.20,258.77 L211.06,259.62 L212.91,260.51 L214.74,261.43 L216.56,262.39 L218.36,263.38 L220.15,264.41 L221.93,265.46 L223.68,266.55 L225.42,267.67 L227.15,268.82 L228.85,270.00 L230.53,271.20 L232.20,272.44 L233.85,273.69 L235.47,274.98 L237.08,276.28 L238.66,277.61 L240.22,278.96 L241.76,280.34 L243.27,281.73 L244.76,283.15 L246.23,284.58 L247.67,286.04 L249.09,287.52 L250.49,289.01 L251.86,290.53 L253.21,292.06 L254.53,293.61 L255.82,295.19 L257.09,296.78 L258.33,298.38 L259.55,300.01 L260.74,301.65 L261.91,303.31 L263.04,304.98 L264.15,306.67 L265.23,308.38 L266.29,310.10 L267.31,311.84 L268.31,313.59 L269.27,315.36 L270.21,317.14 L271.12,318.94 L272.00,320.74 L272.85,322.57 L273.67,324.40 L274.46,326.25 L275.21,328.11 L275.94,329.98 L276.63,331.86 L277.30,333.76 L277.93,335.66 L278.53,337.58 L279.09,339.50 L279.63,341.44 L280.13,343.39 L280.59,345.34 L281.03,347.30 L281.43,349.28 L281.79,351.26 L282.12,353.25 L282.42,355.25 L282.68,357.25 L282.90,359.26 L283.09,361.28 L283.24,363.30 L283.36,365.34 L283.44,367.37 L283.49,369.41 L283.49,371.46 L283.46,373.51 L283.40,375.57 L283.29,377.63 L283.15,379.70 L282.96,381.76 L282.74,383.84 L282.48,385.91 L282.18,387.99" stroke-width="2.00" fill="none"/>
<path d="M109.02,357.00 L108.68,354.16 L108.42,351.30 L108.23,348.41 L108.13,345.49 L108.12,342.56 L108.20,339.61 L108.37,336.65 L108.65,333.67 L109.04,330.69 L109.53,327.71 L110.14,324.73 L110.87,321.77 L111.72,318.82 L112.69,315.89 L113.79,313.00 L115.02,310.14 L116.37,307.34 L117.86,304.59 L119.47,301.90 L121.21,299.28 L123.08,296.74 L125.07,294.29 L127.17,291.94 L129.39,289.68 L131.71,287.54 L134.14,285.50 L136.67,283.59 L139.28,281.80 L141.97,280.14 L144.74,278.61 L147.58,277.22 L150.48,275.96 L153.42,274.84 L156.41,273.86 L159.43,273.01 L162.48,272.30 L165.55,271.73 L168.63,271.29 L171.72,270.98 L174.80,270.81 L177.88,270.75 L180.94,270.82 L183.99,271.01 L187.01,271.31 L190.00,271.73 L192.96,272.25 L195.88,272.88 L198.76,273.61 L201.60,274.43 L204.40,275.35 L207.14,276.36 L209.83,277.46 L212.47,278.64 L215.05,279.90 L217.57,281.24 L220.04,282.65 L222.44,284.14 L224.78,285.70 L227.05,287.32 L229.26,289.01 L231.39,290.76 L233.46,292.57 L235.46,294.43 L237.39,296.35 L239.24,298.32 L241.02,300.33 L242.73,302.39 L244.37,304.50 L245.93,306.64 L247.43,308.81 L248.85,311.02 L250.20,313.26 L251.48,315.53 L252.69,317.83 L253.84,320.14 L254.92,322.48 L255.95,324.84 L256.91,327.21 L257.81,329.60 L258.66,332.01 L259.46,334.43 L260.20,336.87 L260.90,339.32 L261.54,341.79 L262.14,344.28 L262.69,346.78 L263.19,349.31 L263.65,351.85 L264.06,354.41 L264.42,357.00 L264.73,359.61 L264.99,362.24 L265.19,364.90 L265.33,367.59 L265.41,370.30 L265.42,373.03 L265.36,375.79 L265.22,378.57 L265.00,381.37 L264.69,384.19 L264.30,387.02 L263.80,389.86 L263.20,392.70 L262.50,395.55 L261.68,398.38 L260.75,401.21 L259.70,404.01 L258.53,406.79 L257.23,409.53 L255.82,412.23 L254.27,414.87 L252.60,417.45 L250.81,419.97 L248.89,422.41 L246.86,424.76 L244.71,427.02 L242.44,429.18 L240.07,431.23 L237.60,433.17 L235.03,434.99 L232.37,436.69 L229.63,438.25 L226.81,439.68 L223.93,440.97 L220.98,442.13 L217.99,443.14 L214.95,444.01 L211.87,444.73 L208.77,445.32 L205.65,445.76 L202.52,446.06 L199.38,446.22 L196.24,446.24 L193.11,446.13 L190.00,445.89 L186.91,445.52 L183.85,445.02 L180.81,444.40 L177.82,443.67 L174.87,442.82 L171.96,441.86 L169.11,440.80 L166.30,439.64 L163.56,438.38 L160.87,437.03 L158.25,435.59 L155.69,434.07 L153.19,432.47 L150.77,430.79 L148.41,429.04 L146.12,427.22 L143.91,425.33 L141.76,423.39 L139.69,421.39 L137.69,419.34 L135.77,417.23 L133.91,415.08 L132.13,412.88 L130.42,410.65 L128.78,408.37 L127.20,406.06 L125.70,403.72 L124.26,401.34 L122.88,398.94 L121.57,396.51 L120.32,394.05 L119.13,391.56 L118.01,389.05 L116.94,386.52 L115.92,383.96 L114.97,381.38 L114.07,378.77 L113.23,376.14 L112.45,373.48 L111.72,370.80 L111.06,368.09 L110.45,365.36 L109.91,362.60 L109.43,359.81Z" stroke-width="2.15" fill="none"/>
<path d="M122.99,357.00 L122.60,354.65 L122.27,352.26 L122.01,349.85 L121.82,347.42 L121.71,344.96 L121.68,342.48 L121.72,339.98 L121.86,337.46 L122.08,334.93 L122.40,332.40 L122.82,329.86 L123.33,327.32 L123.94,324.78 L124.66,322.26 L125.48,319.75 L126.40,317.26 L127.44,314.80 L128.58,312.37 L129.82,309.98 L131.18,307.64 L132.63,305.35 L134.19,303.11 L135.86,300.93 L137.62,298.82 L139.48,296.79 L141.43,294.83 L143.47,292.96 L145.60,291.17 L147.81,289.48 L150.09,287.88 L152.45,286.39 L154.88,284.99 L157.37,283.71 L159.91,282.54 L162.51,281.47 L165.15,280.53 L167.83,279.70 L170.55,278.98 L173.29,278.39 L176.05,277.91 L178.83,277.55 L181.62,277.31 L184.42,277.19 L187.21,277.19 L190.00,277.30 L192.78,277.53 L195.53,277.87 L198.27,278.32 L200.98,278.87 L203.66,279.53 L206.30,280.30 L208.91,281.16 L211.47,282.12 L213.99,283.17 L216.45,284.32 L218.87,285.55 L221.23,286.86 L223.53,288.25 L225.78,289.71 L227.96,291.25 L230.08,292.85 L232.14,294.52 L234.14,296.25 L236.06,298.04 L237.93,299.88 L239.72,301.78 L241.45,303.72 L243.12,305.70 L244.72,307.73 L246.25,309.80 L247.71,311.91 L249.12,314.05 L250.45,316.22 L251.72,318.43 L252.93,320.67 L254.08,322.93 L255.16,325.22 L256.18,327.54 L257.14,329.88 L258.03,332.24 L258.87,334.62 L259.64,337.03 L260.35,339.46 L260.99,341.91 L261.57,344.38 L262.09,346.87 L262.55,349.37 L262.94,351.90 L263.26,354.44 L263.51,357.00 L263.69,359.57 L263.80,362.16 L263.83,364.76 L263.79,367.37 L263.67,369.99 L263.47,372.62 L263.18,375.25 L262.81,377.88 L262.35,380.51 L261.81,383.14 L261.17,385.75 L260.43,388.36 L259.60,390.95 L258.68,393.52 L257.65,396.06 L256.53,398.57 L255.30,401.05 L253.98,403.48 L252.55,405.87 L251.02,408.20 L249.39,410.48 L247.67,412.69 L245.84,414.83 L243.92,416.89 L241.91,418.87 L239.81,420.76 L237.63,422.56 L235.36,424.25 L233.02,425.85 L230.61,427.33 L228.12,428.70 L225.58,429.95 L222.98,431.08 L220.34,432.09 L217.65,432.97 L214.93,433.72 L212.18,434.34 L209.41,434.83 L206.62,435.19 L203.83,435.42 L201.03,435.51 L198.25,435.48 L195.48,435.32 L192.72,435.03 L190.00,434.62 L187.31,434.10 L184.65,433.46 L182.04,432.71 L179.48,431.85 L176.97,430.89 L174.52,429.84 L172.12,428.70 L169.79,427.47 L167.53,426.17 L165.33,424.79 L163.19,423.35 L161.13,421.84 L159.13,420.28 L157.21,418.67 L155.35,417.01 L153.56,415.31 L151.84,413.58 L150.18,411.81 L148.58,410.02 L147.04,408.20 L145.56,406.36 L144.13,404.49 L142.76,402.62 L141.44,400.72 L140.17,398.81 L138.94,396.89 L137.76,394.96 L136.61,393.01 L135.51,391.05 L134.44,389.08 L133.41,387.09 L132.42,385.08 L131.46,383.06 L130.54,381.02 L129.65,378.97 L128.80,376.89 L127.98,374.78 L127.20,372.66 L126.46,370.51 L125.76,368.33 L125.11,366.12 L124.50,363.88 L123.94,361.62 L123.44,359.32Z" stroke-width="2.15" fill="none"/>
<path d="M127.18,294.46 L126.13,296.18 L125.13,297.92 L124.18,299.68 L123.28,301.46 L122.42,303.27 L121.60,305.09 L120.84,306.93 L120.12,308.79 L119.44,310.66 L118.81,312.55 L118.22,314.46 L117.68,316.38 L117.18,318.31 L116.72,320.26 L116.31,322.22 L115.94,324.19 L115.62,326.17 L115.33,328.16 L115.09,330.16 L114.89,332.17 L114.73,334.18 L114.62,336.20 L114.54,338.23 L114.50,340.26 L114.51,342.29 L114.55,344.33 L114.63,346.37 L114.76,348.41 L114.92,350.45 L115.12,352.50 L115.36,354.54 L115.64,356.57 L115.95,358.61 L116.30,360.64 L116.69,362.67 L117.12,364.70 L117.58,366.71 L118.08,368.72 L118.61,370.73 L119.18,372.72 L119.79,374.71 L120.43,376.68 L121.10,378.65 L121.81,380.60 L122.55,382.54 L123.33,384.47 L124.14,386.38 L124.98,388.28 L125.86,390.17 L126.77,392.03 L127.71,393.88 L128.68,395.71 L129.69,397.53 L130.72,399.32 L131.79,401.09 L132.88,402.84 L134.01,404.57 L135.17,406.28 L136.36,407.96 L137.57,409.62 L138.82,411.25 L140.09,412.86 L141.39,414.44 L142.72,415.99 L144.08,417.51 L145.47,419.00 L146.88,420.47 L148.32,421.90 L149.79,423.30 L151.28,424.66 L152.80,426.00 L154.34,427.30 L155.91,428.56 L157.51,429.79 L159.13,430.98 L160.77,432.13 L162.44,433.25 L164.13,434.32 L165.85,435.36 L167.58,436.36 L169.35,437.31 L171.13,438.22 L172.94,439.09 L174.76,439.91 L176.61,440.69 L178.48,441.42 L180.38,442.11 L182.29,442.75 L184.22,443.34 L186.18,443.88 L188.15,444.37 L190.14,444.81 L192.15,445.20 L194.18,445.54" stroke-width="1.90" fill="none"/>
<path d="M130.5,294.7 a2.5,2.5 0 1,1 -5,0 a2.5,2.5 0 1,1 5,0" stroke-width="1.70" fill="#fff"/>
<path d="M196.70,280.30 L192.70,315.00 L190.80,347.00 L191.30,381.70 L196.70,425.70 L205.00,417.50 L202.00,407.00 L199.00,399.50 L198.00,395.00 L196.00,376.30 L196.70,339.00 L199.30,307.00 L204.00,284.30Z" stroke-width="2.15" fill="#fff"/>
<path d="M190.48,345.40 L188.21,345.60 L186.62,346.69 L185.65,348.44 L185.27,350.60 L185.42,352.94 L186.06,355.22 L187.14,357.19 L188.61,358.62 L190.43,359.26" stroke-width="1.90" fill="#fff"/>
<path d="M196.81,339.34 L199.41,338.81 L201.76,338.77 L203.86,339.16 L205.71,339.95 L207.31,341.08 L208.66,342.51 L209.76,344.19 L210.61,346.06 L211.22,348.09 L211.58,350.22 L211.69,352.41 L211.55,354.60 L211.17,356.75 L210.55,358.81 L209.68,360.74 L208.56,362.47 L207.21,363.98 L205.61,365.20 L203.76,366.09 L201.68,366.60 L199.35,366.69 L196.78,366.30" stroke-width="2.15" fill="#fff"/>
<path d="M208.00,335.80 L213.00,335.80 L213.00,346.70 L208.00,346.70Z" stroke-width="2.00" fill="#fff"/>
<path d="M226.41,319.97 L228.06,320.18 L229.80,321.27 L231.54,322.84 L233.19,324.51 L234.65,325.97 L235.85,327.40 L236.75,329.04 L237.37,330.89 L237.75,332.91 L237.94,335.05 L237.99,337.24 L237.94,339.45 L237.83,341.60 L237.67,343.70 L237.43,345.72 L237.08,347.69 L236.59,349.59 L235.95,351.43 L235.12,353.21 L234.07,354.92 L232.79,356.58 L231.24,358.17 L229.41,359.68 L227.43,360.66 L225.56,360.46 L224.01,359.29 L222.76,357.66 L221.63,355.82 L220.41,354.05 L218.93,352.61 L217.23,351.44 L215.64,350.15 L214.44,348.44 L213.74,346.45 L213.48,344.40 L213.46,342.33 L213.42,340.24 L213.18,338.15 L212.91,336.06 L212.88,333.99 L213.37,331.98 L214.53,330.24 L216.33,329.02 L217.98,327.84 L218.64,326.06 L219.55,324.49 L221.44,323.50 L223.32,322.26 L224.89,320.84 L226.41,319.97Z" stroke-width="2.30" fill="#fff"/>
<path d="M214.70,330.00 L216.99,329.60 L219.25,329.57 L221.49,329.82 L223.72,330.25 L225.95,330.77 L228.19,331.29 L230.43,331.72 L232.69,331.96 L234.98,331.91 L237.30,331.50" stroke-width="2.30" fill="none"/>
<path d="M213.03,335.63 L215.25,335.65 L217.47,335.86 L219.68,336.21 L221.90,336.65 L224.11,337.14 L226.34,337.62 L228.58,338.06 L230.83,338.40 L233.10,338.60 L235.40,338.61 L237.72,338.38" stroke-width="2.30" fill="none"/>
<path d="M213.40,342.50 L215.53,343.24 L217.69,343.81 L219.88,344.23 L222.09,344.54 L224.31,344.76 L226.55,344.92 L228.79,345.04 L231.03,345.17 L233.27,345.32 L235.49,345.52 L237.70,345.80" stroke-width="2.30" fill="none"/>
<path d="M215.50,350.00 L217.46,351.10 L219.52,351.94 L221.65,352.55 L223.84,352.97 L226.07,353.21 L228.32,353.31 L230.57,353.29 L232.81,353.17 L235.00,353.00" stroke-width="2.30" fill="none"/>
<path d="M237.70,332.00 L240.70,332.00 L240.70,346.00 L237.70,346.00Z" stroke-width="2.00" fill="#fff"/>
<path d="M240.63,338.31 L242.77,337.89 L244.61,338.45 L246.00,339.71 L246.78,341.35 L246.81,343.09 L246.07,344.63 L244.69,345.74 L242.83,346.16 L240.62,345.66" stroke-width="2.00" fill="#fff"/>
</g>
</g>
<g opacity="0.995" style="will-change:transform">
<text x="0" y="0" font-size="25" letter-spacing="1.2" stroke="#111" stroke-width="0.25" transform="matrix(0.989,0.148,-0.05,1,320.0,110.0)">300</text>
<text x="0" y="0" font-size="22" stroke="#111" stroke-width="0.35" transform="translate(53.2,102.5) rotate(-31)">62</text>
<text x="0" y="0" font-size="26.5" letter-spacing="1.6" stroke="#111" stroke-width="0.25" transform="translate(31,302.2) rotate(-90) scale(0.98,1.07)">90</text>
<path d="M11.9,308.1 L30.7,308.1 M11.9,308.3 L15.4,313.0" stroke="#111" stroke-width="2.4" fill="none" stroke-linecap="butt"/>
</g>
</svg>
</body></html>
